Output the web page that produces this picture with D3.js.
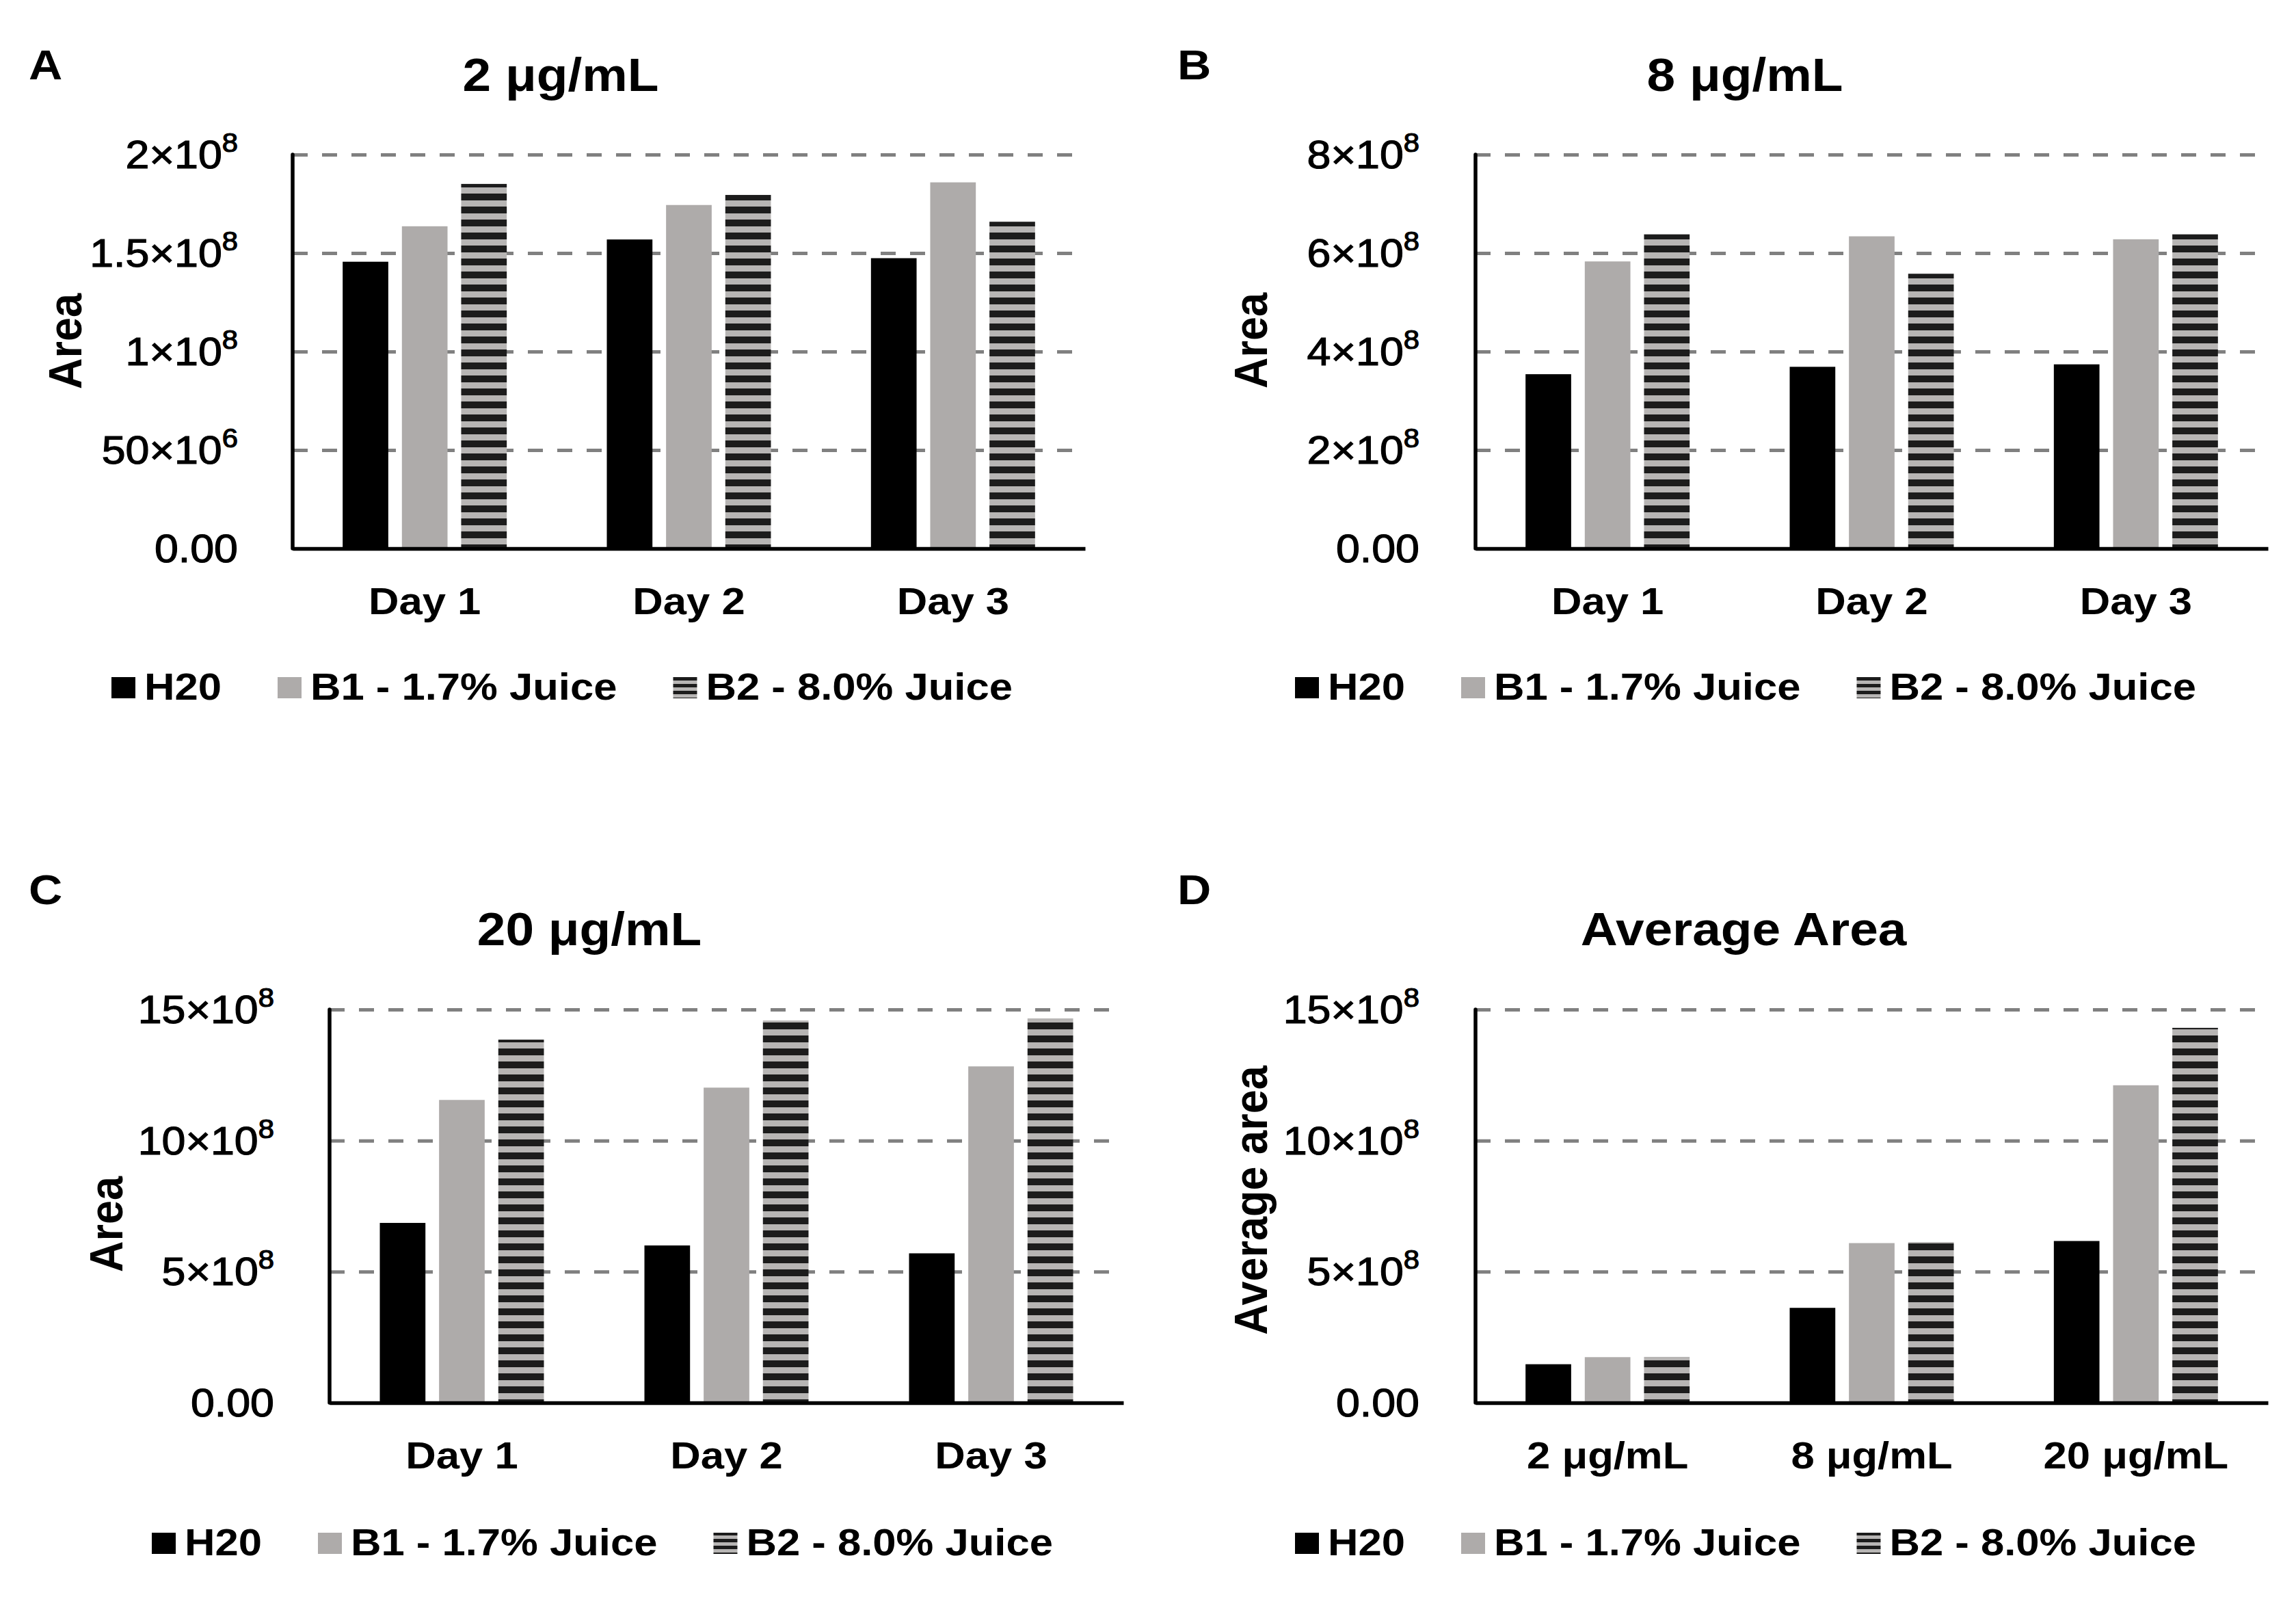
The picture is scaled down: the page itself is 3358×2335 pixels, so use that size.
<!DOCTYPE html>
<html>
<head>
<meta charset="utf-8">
<script src="https://cdn.jsdelivr.net/npm/d3@7"></script>
<style>
  body { margin: 0; background: #fff; }
  text { font-family: "Liberation Sans", Arial, sans-serif; fill: #000; }
</style>
</head>
<body>
<svg id="fig"></svg>
<script>
var seriesNames = ["H20", "B1 - 1.7% Juice", "B2 - 8.0% Juice"];
var dayLabels = ["Day 1", "Day 2", "Day 3"];
var doseLabels = ["2 μg/mL", "8 μg/mL", "20 μg/mL"];

// one row per series (H20, B1, B2), one column per category
var area2 = [[1.456e8, 1.569e8, 1.474e8], [1.636e8, 1.744e8, 1.859e8], [1.851e8, 1.795e8, 1.659e8]];
var area8 = [[3.54e8, 3.69e8, 3.74e8], [5.83e8, 6.34e8, 6.28e8], [6.38e8, 5.58e8, 6.38e8]];
var area20 = [[6.86e8, 6.0e8, 5.70e8], [11.55e8, 12.02e8, 12.83e8], [13.85e8, 14.58e8, 14.66e8]];
var areaAvg = [[1.47e8, 3.62e8, 6.17e8], [1.74e8, 6.09e8, 12.11e8], [1.75e8, 6.13e8, 14.30e8]];

var ticks2 = [0, 5e7, 1e8, 1.5e8, 2e8];
var tickLabels2 = ["0.00", "50×10^6", "1×10^8", "1.5×10^8", "2×10^8"];
var ticks8 = [0, 2e8, 4e8, 6e8, 8e8];
var tickLabels8 = ["0.00", "2×10^8", "4×10^8", "6×10^8", "8×10^8"];
var ticks20 = [0, 5e8, 10e8, 15e8];
var tickLabels20 = ["0.00", "5×10^8", "10×10^8", "15×10^8"];

var SX = 1.1;   // the source figure is slightly wider than tall in its lettering
var fills = ["#000000", "#aeabaa", "url(#stripes)"];
var legendFills = ["#000000", "#aeabaa", "url(#stripesSmall)"];

var svg = d3.select("#fig").attr("width", 3358).attr("height", 2335);
svg.append("rect").attr("width", 3358).attr("height", 2335).attr("fill", "#fff");

var defs = svg.append("defs");
var pat = defs.append("pattern").attr("id", "stripes")
    .attr("patternUnits", "userSpaceOnUse").attr("width", 40).attr("height", 19);
pat.append("rect").attr("width", 40).attr("height", 19).attr("fill", "#b7b5b4");
pat.append("rect").attr("width", 40).attr("height", 10).attr("fill", "#1c1c1c");
var pat2 = defs.append("pattern").attr("id", "stripesSmall")
    .attr("patternUnits", "userSpaceOnUse").attr("width", 40).attr("height", 10);
pat2.append("rect").attr("width", 40).attr("height", 10).attr("fill", "#b7b5b4");
pat2.append("rect").attr("width", 40).attr("height", 5).attr("fill", "#1c1c1c");

function place(x, y, extra) {
    return "translate(" + x + "," + y + ") scale(" + SX + ",1)" + (extra || "");
}

function GroupedBars() {
    var box, cats, values, ticks, tickLabels, title, yTitle, letter;

    function my(g) {
        var w = box.right - box.left,
            h = box.bottom - box.top,
            groupW = 240;

        var x0 = d3.scaleBand().domain(cats).range([0, w]);
        var x1 = d3.scaleBand().domain(d3.range(values.length))
            .range([(x0.bandwidth() - groupW) / 2, (x0.bandwidth() + groupW) / 2])
            .paddingInner(0.23);
        var y = d3.scaleLinear().domain([0, ticks[ticks.length - 1]]).range([h, 0]);

        var plot = g.append("g").attr("transform", "translate(" + box.left + "," + box.top + ")");

        // dashed grid
        var grid = plot.append("g")
            .call(d3.axisLeft(y).tickValues(ticks.slice(1)).tickSize(-w).tickFormat(""));
        grid.select(".domain").remove();
        grid.selectAll("line")
            .attr("stroke", "#808080")
            .attr("stroke-width", 5)
            .attr("stroke-dasharray", "22,21");

        // bars
        plot.selectAll("g.series")
            .data(values)
            .join("g")
            .attr("class", "series")
            .attr("fill", function (d, i) { return fills[i]; })
            .selectAll("rect")
            .data(function (d, i) {
                return d.map(function (v, j) { return {s: i, c: cats[j], v: v}; });
            })
            .join("rect")
            .attr("x", function (d) { return x0(d.c) + x1(d.s); })
            .attr("width", x1.bandwidth())
            .attr("y", function (d) { return y(d.v); })
            .attr("height", function (d) { return h - y(d.v); });

        // x axis
        var xa = plot.append("g")
            .attr("transform", "translate(0," + h + ")")
            .call(d3.axisBottom(x0).tickSize(0).tickPadding(56));
        xa.attr("font-family", null).attr("font-size", null);
        xa.select(".domain").attr("stroke", "#000").attr("stroke-width", 5.5);
        xa.selectAll("text")
            .attr("font-size", 56)
            .attr("font-weight", "bold")
            .attr("fill", "#000")
            .attr("transform", "scale(" + SX + ",1)");

        // y axis line
        plot.append("line")
            .attr("x1", 0).attr("x2", 0)
            .attr("y1", 0).attr("y2", h)
            .attr("stroke", "#000")
            .attr("stroke-width", 5.5)
            .attr("stroke-linecap", "round");

        // y tick labels with superscript exponents
        ticks.forEach(function (t, i) {
            var parts = tickLabels[i].split("^");
            var txt = g.append("text")
                .attr("text-anchor", "end")
                .attr("font-size", 57)
                .attr("stroke", "#000")
                .attr("stroke-width", 1.2)
                .attr("transform", place(box.tickRight, box.top + y(t) + 20));
            txt.append("tspan").text(parts[0]);
            if (parts[1]) {
                txt.append("tspan").attr("font-size", 38).attr("dy", -24).text(parts[1]);
            }
        });

        // y title
        g.append("text")
            .attr("text-anchor", "middle")
            .attr("font-size", 63)
            .attr("font-weight", "bold")
            .attr("transform", place(box.ylabX, box.ylabY, " rotate(-90)"))
            .text(yTitle);

        // chart title and panel letter
        g.append("text")
            .attr("text-anchor", "middle")
            .attr("font-size", 68)
            .attr("font-weight", "bold")
            .attr("transform", place(box.titleX, box.titleY))
            .text(title);
        g.append("text")
            .attr("font-size", 62)
            .attr("font-weight", "bold")
            .attr("transform", place(box.letterX, box.letterY))
            .text(letter);

        // legend
        var lx = box.legendX;
        seriesNames.forEach(function (name, i) {
            g.append("rect")
                .attr("x", lx).attr("y", box.legendY - 33)
                .attr("width", 35).attr("height", 31)
                .attr("fill", legendFills[i]);
            var t = g.append("text")
                .attr("font-size", 56)
                .attr("font-weight", "bold")
                .attr("transform", place(lx + 48, box.legendY))
                .text(name);
            lx += 48 + t.node().getComputedTextLength() * SX + 82;
        });
    }

    my.box = function (_) { return arguments.length ? (box = _, my) : box; };
    my.cats = function (_) { return arguments.length ? (cats = _, my) : cats; };
    my.values = function (_) { return arguments.length ? (values = _, my) : values; };
    my.ticks = function (_) { return arguments.length ? (ticks = _, my) : ticks; };
    my.tickLabels = function (_) { return arguments.length ? (tickLabels = _, my) : tickLabels; };
    my.title = function (_) { return arguments.length ? (title = _, my) : title; };
    my.yTitle = function (_) { return arguments.length ? (yTitle = _, my) : yTitle; };
    my.letter = function (_) { return arguments.length ? (letter = _, my) : letter; };

    return my;
}

svg.append("g").call(GroupedBars()
    .box({left: 428, right: 1587, top: 226, bottom: 802, tickRight: 348,
          ylabX: 119, ylabY: 499, titleX: 820, titleY: 133,
          letterX: 42, letterY: 116, legendX: 163, legendY: 1023})
    .cats(dayLabels).values(area2).ticks(ticks2).tickLabels(tickLabels2)
    .title("2 μg/mL").yTitle("Area").letter("A"));

svg.append("g").call(GroupedBars()
    .box({left: 2158, right: 3317, top: 226, bottom: 802, tickRight: 2076,
          ylabX: 1853, ylabY: 498, titleX: 2552, titleY: 133,
          letterX: 1722, letterY: 116, legendX: 1894, legendY: 1023})
    .cats(dayLabels).values(area8).ticks(ticks8).tickLabels(tickLabels8)
    .title("8 μg/mL").yTitle("Area").letter("B"));

svg.append("g").call(GroupedBars()
    .box({left: 482, right: 1643, top: 1476, bottom: 2051, tickRight: 401,
          ylabX: 179, ylabY: 1790, titleX: 862, titleY: 1382,
          letterX: 42, letterY: 1322, legendX: 222, legendY: 2274})
    .cats(dayLabels).values(area20).ticks(ticks20).tickLabels(tickLabels20)
    .title("20 μg/mL").yTitle("Area").letter("C"));

svg.append("g").call(GroupedBars()
    .box({left: 2158, right: 3317, top: 1476, bottom: 2051, tickRight: 2076,
          ylabX: 1853, ylabY: 1755, titleX: 2550, titleY: 1382,
          letterX: 1722, letterY: 1322, legendX: 1894, legendY: 2274})
    .cats(doseLabels).values(areaAvg).ticks(ticks20).tickLabels(tickLabels20)
    .title("Average Area").yTitle("Average area").letter("D"));
</script>
</body>
</html>
